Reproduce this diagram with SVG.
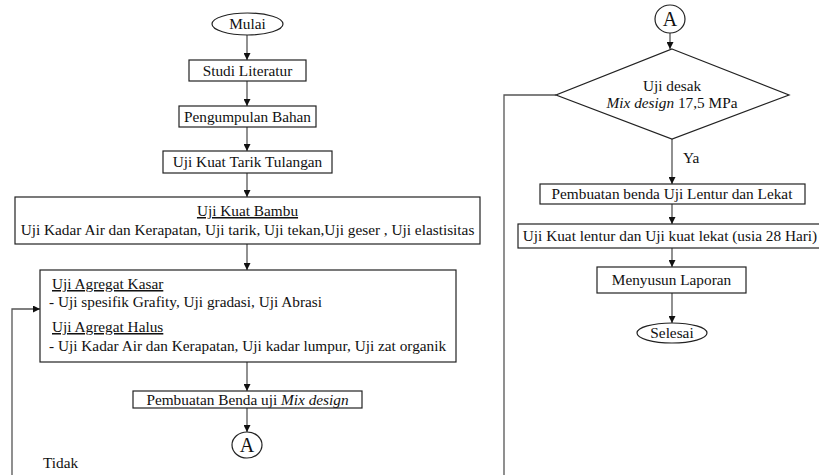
<svg xmlns="http://www.w3.org/2000/svg" width="819" height="475" viewBox="0 0 819 475">
<style>
text{font-family:"Liberation Serif","Times New Roman",serif;font-size:15.3px;fill:#111}
.c{text-anchor:middle}
.n{fill:#fff;stroke:#222;stroke-width:1.2}
.e{fill:none;stroke:#555;stroke-width:1.3}
.u{text-decoration:underline}
</style>
<defs>
<marker id="ah" viewBox="0 0 10 10" refX="10" refY="5" markerWidth="7" markerHeight="7" markerUnits="userSpaceOnUse" orient="auto">
<path d="M0,0 L10,5 L0,10 z" fill="#111"/>
</marker>
</defs>
<rect width="819" height="475" fill="#fff"/>
<g id="connectors">
<line class="e" x1="247" y1="35" x2="247" y2="60" marker-end="url(#ah)"/>
<line class="e" x1="247" y1="81" x2="247" y2="106" marker-end="url(#ah)"/>
<line class="e" x1="247" y1="127" x2="247" y2="151" marker-end="url(#ah)"/>
<line class="e" x1="247" y1="173" x2="247" y2="197" marker-end="url(#ah)"/>
<line class="e" x1="247" y1="244" x2="247" y2="270" marker-end="url(#ah)"/>
<line class="e" x1="247" y1="362" x2="247" y2="391" marker-end="url(#ah)"/>
<line class="e" x1="247" y1="408" x2="247" y2="432" marker-end="url(#ah)"/>
<polyline class="e" points="12,475 12,309 40,309" marker-end="url(#ah)"/>
<line class="e" x1="670" y1="33" x2="670" y2="49" marker-end="url(#ah)"/>
<polyline class="e" points="556,95 504,95 504,475"/>
<line class="e" x1="672" y1="139" x2="672" y2="184" marker-end="url(#ah)"/>
<line class="e" x1="672" y1="204" x2="672" y2="224" marker-end="url(#ah)"/>
<line class="e" x1="672" y1="248" x2="672" y2="267" marker-end="url(#ah)"/>
<line class="e" x1="672" y1="293" x2="672" y2="323" marker-end="url(#ah)"/>
<text x="683" y="163">Ya</text>
<text x="43" y="468">Tidak</text>
</g>
<g id="mulai"><ellipse class="n" cx="247.5" cy="24" rx="35.5" ry="11"/><text class="c" x="247.5" y="29">Mulai</text></g>
<g id="studi"><rect class="n" x="189" y="60" width="117" height="21"/><text class="c" x="247.5" y="76">Studi Literatur</text></g>
<g id="pengumpulan"><rect class="n" x="179" y="106" width="137" height="21"/><text class="c" x="247.5" y="122">Pengumpulan Bahan</text></g>
<g id="tarik"><rect class="n" x="163" y="151" width="169" height="22"/><text class="c" x="247.5" y="167">Uji Kuat Tarik Tulangan</text></g>
<g id="bambu"><rect class="n" x="15" y="197" width="465" height="47"/>
<text class="c u" x="247.5" y="216">Uji Kuat Bambu</text>
<text class="c" x="247.5" y="235">Uji Kadar Air dan Kerapatan, Uji tarik, Uji tekan,Uji geser , Uji elastisitas</text></g>
<g id="agregat"><rect class="n" x="40" y="270" width="416" height="92"/>
<text class="u" x="52" y="289">Uji Agregat Kasar</text>
<text x="49" y="307">- Uji spesifik Grafity, Uji gradasi, Uji Abrasi</text>
<text class="u" x="52" y="332">Uji Agregat Halus</text>
<text x="49" y="351">- Uji Kadar Air dan Kerapatan, Uji kadar lumpur, Uji zat organik</text></g>
<g id="mix"><rect class="n" x="133" y="391" width="229" height="17"/><text class="c" x="247.5" y="405">Pembuatan Benda uji <tspan font-style="italic">Mix design</tspan></text></g>
<g id="a1"><ellipse class="n" cx="247" cy="445" rx="15" ry="13"/><text class="c" x="247" y="452" style="font-size:20px">A</text></g>
<g id="a2"><ellipse class="n" cx="670" cy="19" rx="15" ry="14"/><text class="c" x="670" y="26" style="font-size:20px">A</text></g>
<g id="desak"><polygon class="n" points="672,49 789,95 672,139 556,95"/>
<text class="c" x="672" y="91">Uji desak</text>
<text class="c" x="672" y="108"><tspan font-style="italic">Mix design</tspan> 17,5 MPa</text></g>
<g id="benda"><rect class="n" x="540" y="184" width="265" height="20"/><text class="c" x="672" y="199">Pembuatan benda Uji Lentur dan Lekat</text></g>
<g id="lentur"><rect class="n" x="518" y="224" width="305" height="24"/><text class="c" x="670" y="241">Uji Kuat lentur dan Uji kuat lekat (usia 28 Hari)</text></g>
<g id="laporan"><rect class="n" x="597" y="267" width="149" height="26"/><text class="c" x="671.5" y="285">Menyusun Laporan</text></g>
<g id="selesai"><ellipse class="n" cx="672" cy="333" rx="35" ry="10"/><text class="c" x="672" y="338">Selesai</text></g>
</svg>
